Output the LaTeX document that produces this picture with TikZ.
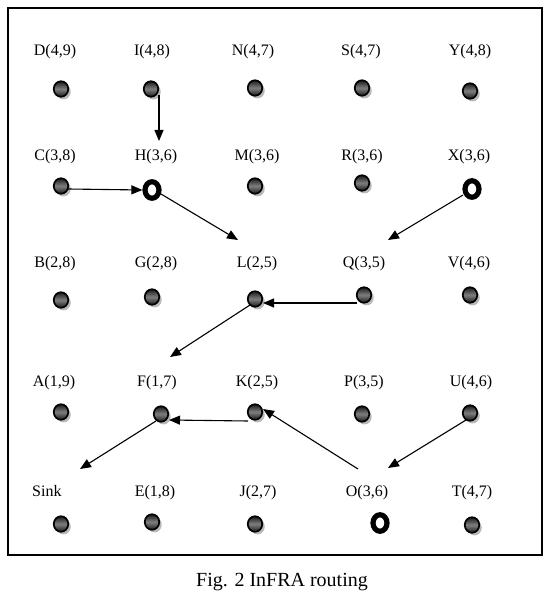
\documentclass[tikz,border=0pt]{standalone}
\usepackage{fontspec}
\setmainfont{Liberation Serif}
\usetikzlibrary{arrows.meta,shapes.geometric,shadows,calc}
\begin{document}
\begin{tikzpicture}[x=1pt,y=-1pt,
  lab/.style={font=\fontsize{16}{16}\selectfont, anchor=base, inner sep=0pt},
  dot/.style={ellipse, draw=black, line width=1.7pt, minimum width=14.5pt, minimum height=15.5pt, inner sep=0pt,
     top color=black!90, bottom color=black!90, middle color=black!50,
     drop shadow={shadow xshift=2.5pt, shadow yshift=-2.7pt, fill=gray!55, opacity=1}},
  ring/.style={ellipse, draw=black, line width=5.2pt, minimum width=14pt, minimum height=16.5pt, inner sep=0pt, fill=white},
  arr/.style={line width=1.1pt, -{Triangle[length=11pt,width=9pt]}}]
\useasboundingbox (0,0) rectangle (551,593);
\draw[line width=2pt] (8,8) rectangle (542,555);
% labels
\node[lab] (Dl) at (55,56) {D(4,9)};
\node[lab] (Il) at (152,56) {I(4,8)};
\node[lab] (Nl) at (253,56) {N(4,7)};
\node[lab] (Sl) at (361,56) {S(4,7)};
\node[lab] (Yl) at (470,56) {Y(4,8)};
\node[lab] (Cl) at (55,161) {C(3,8)};
\node[lab] (Hl) at (156,161) {H(3,6)};
\node[lab] (Ml) at (257,161) {M(3,6)};
\node[lab] (Rl) at (362,161) {R(3,6)};
\node[lab] (Xl) at (469,161) {X(3,6)};
\node[lab] (Bl) at (55,267) {B(2,8)};
\node[lab] (Gl) at (156,267) {G(2,8)};
\node[lab] (Ll) at (257,267) {L(2,5)};
\node[lab] (Ql) at (364,267) {Q(3,5)};
\node[lab] (Vl) at (469,267) {V(4,6)};
\node[lab] (Al) at (54,386) {A(1,9)};
\node[lab] (Fl) at (157,386) {F(1,7)};
\node[lab] (Kl) at (257,386) {K(2,5)};
\node[lab] (Pl) at (364,386) {P(3,5)};
\node[lab] (Ul) at (471,386) {U(4,6)};
\node[lab, anchor=base west] (Sinkl) at (32,496) {Sink};
\node[lab] (El) at (155,496) {E(1,8)};
\node[lab] (Jl) at (258,496) {J(2,7)};
\node[lab] (Ol) at (367,496) {O(3,6)};
\node[lab] (Tl) at (472,496) {T(4,7)};
% dots
\node[dot] (D) at (61,89) {};
\node[dot] (I) at (151,89) {};
\node[dot] (N) at (255,88) {};
\node[dot] (S) at (362,88) {};
\node[dot] (Y) at (470,91) {};
\node[dot] (C) at (61,186) {};
\node[ring] (H) at (152,190) {};
\node[dot] (M) at (255,186) {};
\node[dot] (R) at (362,183) {};
\node[ring] (X) at (472,189) {};
\node[dot] (B) at (61,300) {};
\node[dot] (G) at (152,297) {};
\node[dot] (L) at (255,299) {};
\node[dot] (Q) at (364,295) {};
\node[dot] (V) at (470,295) {};
\node[dot] (A) at (61,412) {};
\node[dot] (F) at (161,414) {};
\node[dot] (K) at (255,412) {};
\node[dot] (P) at (362,414) {};
\node[dot] (U) at (470,413) {};
\node[dot] (Sink) at (61,524) {};
\node[dot] (E) at (152,522) {};
\node[dot] (J) at (255,524) {};
\node[ring] (O) at (380,523) {};
\node[dot] (T) at (472,525) {};
% free ends
\coordinate (tIH) at (159,141);
\coordinate (tHL) at (238,240);
\coordinate (tXQ) at (388,240);
\coordinate (tLF) at (170,357);
\coordinate (tFS) at (80,469);
\coordinate (sOK) at (358,469);
\coordinate (tUO) at (388,468);
% arrows
\draw[arr] ($(I)+(8,6)$) -- (tIH);
\draw[arr] ($(C)+(7,3)$) -- (H.west);
\draw[arr] ($(H)+(9,4)$) -- (tHL);
\draw[arr] ($(X)+(-9,6)$) -- (tXQ);
\draw[arr] ($(Q)+(-7,8)$) -- ($(L)+(8,4)$);
\draw[arr] ($(L)+(-5,6)$) -- (tLF);
\draw[arr] ($(K)+(-7,9)$) -- ($(F)+(8,6)$);
\draw[arr] ($(F)+(-5,7)$) -- (tFS);
\draw[arr] (sOK) -- ($(K)+(8,-3)$);
\draw[arr] ($(U)+(-4,7)$) -- (tUO);
% caption
\node[font=\fontsize{20}{20}\selectfont, anchor=base, inner sep=0pt] (cap) at (282,586) {Fig. 2 InFRA routing};
\end{tikzpicture}
\end{document}
